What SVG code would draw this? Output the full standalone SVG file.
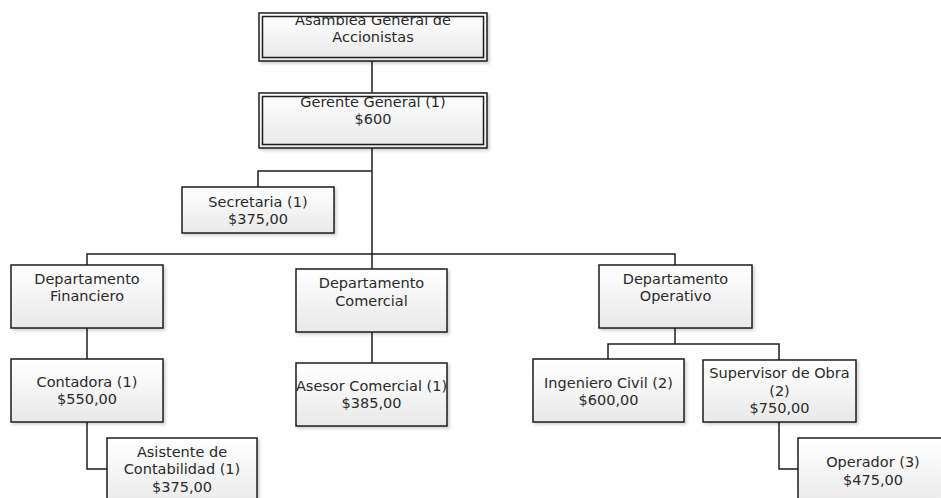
<svg xmlns="http://www.w3.org/2000/svg" width="941" height="498" viewBox="0 0 941 498">
  <defs>
    <linearGradient id="boxFill" x1="0" y1="0" x2="0" y2="1">
      <stop offset="0" stop-color="#ffffff"/>
      <stop offset="1" stop-color="#e9e9e9"/>
    </linearGradient>
    <filter id="shadow" x="-5%" y="-5%" width="115%" height="125%">
      <feDropShadow dx="2" dy="2" stdDeviation="1.5" flood-color="#000" flood-opacity="0.18"/>
    </filter>
    <clipPath id="asambleaClip">
      <rect x="262" y="17" width="222" height="41"/>
    </clipPath>
  </defs>
  <style>
    .box { fill: url(#boxFill); stroke: #1e1e1e; stroke-width: 1.5; filter: url(#shadow); }
    .inner { fill: none; stroke: #1e1e1e; stroke-width: 1.5; }
    .lbl { font-family: "DejaVu Sans", "Liberation Sans", sans-serif; font-size: 14.5px; fill: #2a2a2a; text-anchor: middle; }
    .conn { fill: none; stroke: #1e1e1e; stroke-width: 1.5; }
  </style>
  <rect width="941" height="498" fill="#ffffff"/>

  <!-- connectors -->
  <g id="connectors" class="conn">
    <path d="M372 61 V93"/>
    <path d="M372 148 V269"/>
    <path d="M372 171 H258 V187"/>
    <path d="M87 265 V254 H675 V265"/>
    <path d="M87 328 V359"/>
    <path d="M372 332 V363"/>
    <path d="M675 328 V344"/>
    <path d="M608 359 V344 H779 V360"/>
    <path d="M87 422 V469 H107"/>
    <path d="M779 422 V469 H798"/>
  </g>

  <g id="asamblea">
    <rect class="box" x="259" y="13" width="228" height="48"/>
    <rect class="inner" x="262.5" y="16.5" width="221" height="41"/>
    <g clip-path="url(#asambleaClip)">
      <text class="lbl" x="373" y="25">Asamblea General de</text>
    </g>
    <text class="lbl" x="373" y="42">Accionistas</text>
  </g>

  <g id="gerente">
    <rect class="box" x="259" y="93" width="228" height="55"/>
    <rect class="inner" x="262.5" y="96.5" width="221" height="48"/>
    <text class="lbl" x="373" y="107">Gerente General (1)</text>
    <text class="lbl" x="373" y="123.5">$600</text>
  </g>

  <g id="secretaria">
    <rect class="box" x="182" y="187" width="152" height="46"/>
    <text class="lbl" x="258" y="207">Secretaria (1)</text>
    <text class="lbl" x="258" y="224">$375,00</text>
  </g>

  <g id="dep-financiero">
    <rect class="box" x="11" y="265" width="152" height="63"/>
    <text class="lbl" x="87" y="284">Departamento</text>
    <text class="lbl" x="87" y="301">Financiero</text>
  </g>

  <g id="dep-comercial">
    <rect class="box" x="296" y="269" width="151" height="63"/>
    <text class="lbl" x="371.5" y="288">Departamento</text>
    <text class="lbl" x="371.5" y="305.5">Comercial</text>
  </g>

  <g id="dep-operativo">
    <rect class="box" x="599" y="265" width="153" height="63"/>
    <text class="lbl" x="675.5" y="284">Departamento</text>
    <text class="lbl" x="675.5" y="301">Operativo</text>
  </g>

  <g id="contadora">
    <rect class="box" x="11" y="359" width="152" height="63"/>
    <text class="lbl" x="87" y="387">Contadora (1)</text>
    <text class="lbl" x="87" y="404">$550,00</text>
  </g>

  <g id="asistente">
    <rect class="box" x="107" y="438" width="150" height="72"/>
    <text class="lbl" x="182" y="457">Asistente de</text>
    <text class="lbl" x="182" y="474">Contabilidad (1)</text>
    <text class="lbl" x="182" y="492">$375,00</text>
  </g>

  <g id="asesor">
    <rect class="box" x="296" y="363" width="151" height="63"/>
    <text class="lbl" x="371.5" y="391">Asesor Comercial (1)</text>
    <text class="lbl" x="371.5" y="408">$385,00</text>
  </g>

  <g id="ingeniero">
    <rect class="box" x="533" y="359" width="151" height="63"/>
    <text class="lbl" x="608.5" y="388">Ingeniero Civil (2)</text>
    <text class="lbl" x="608.5" y="405">$600,00</text>
  </g>

  <g id="supervisor">
    <rect class="box" x="703" y="360" width="153" height="62"/>
    <text class="lbl" x="779.5" y="378">Supervisor de Obra</text>
    <text class="lbl" x="779.5" y="395.5">(2)</text>
    <text class="lbl" x="779.5" y="413">$750,00</text>
  </g>

  <g id="operador">
    <rect class="box" x="798" y="438" width="152" height="72"/>
    <text class="lbl" x="873" y="467">Operador (3)</text>
    <text class="lbl" x="873" y="485">$475,00</text>
  </g>
</svg>
